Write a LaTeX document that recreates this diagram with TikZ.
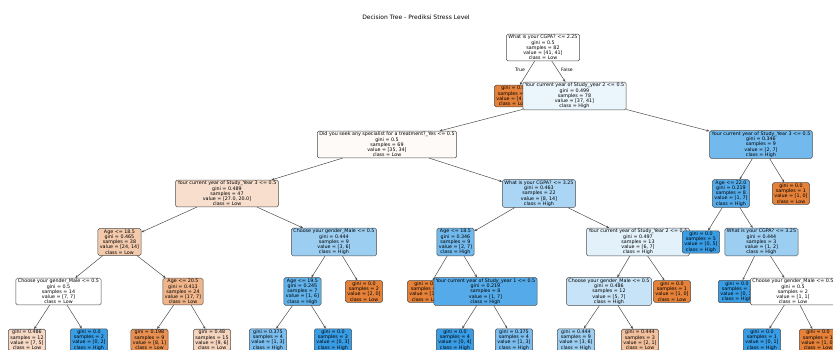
\documentclass[tikz,border=0pt]{standalone}
\usepackage{fontspec}
\setmainfont{DejaVu Sans}
\usetikzlibrary{arrows.meta}

\definecolor{lowcol}{RGB}{229,129,57}
\definecolor{highcol}{RGB}{57,157,229}

\begin{document}
\begin{tikzpicture}[x=1pt, y=-1pt,
    box/.style={draw=black!70, line width=0.5pt, rounded corners=1.5pt, align=center,
      inner xsep=2pt, inner ysep=1.1pt, font=\fontsize{4.8}{5.2}\selectfont},
    edge/.style={draw=black!70, line width=0.5pt, -{Stealth[length=3pt, width=2.4pt]}},
    lbl/.style={font=\fontsize{4.6}{5}\selectfont, inner sep=0.5pt}]
    \useasboundingbox (0,0) rectangle (833,349);
    \clip (0,0) rectangle (833,349);

    \node[font=\fontsize{6}{7}\selectfont] (title) at (416,17) {Decision Tree - Prediksi Stress Level};

    % level 0
    \node[box, fill=white] (root) at (543,47.5) {What is your CGPA? <= 2.25\\gini = 0.5\\samples = 82\\value = [41, 41]\\class = Low};
    \node[box, fill=lowcol] (leafA) at (513,96) {gini = 0.0\\samples = 4\\value = [4, 0]\\class = Low};
    \node[box, fill=highcol!10] (yrtwo) at (574.5,96) {Your current year of Study\_year 2 <= 0.5\\gini = 0.499\\samples = 78\\value = [37, 41]\\class = High};

    % left branch
    \node[box, fill=lowcol!4] (spec) at (387,144.5) {Did you seek any specialist for a treatment?\_Yes <= 0.5\\gini = 0.5\\samples = 69\\value = [35, 34]\\class = Low};
    \node[box, fill=lowcol!26] (yrthreeL) at (227,193.5) {Your current year of Study\_Year 3 <= 0.5\\gini = 0.489\\samples = 47\\value = [27.0, 20.0]\\class = Low};
    \node[box, fill=lowcol!42] (ageA) at (119.5,242) {Age <= 18.5\\gini = 0.465\\samples = 38\\value = [24, 14]\\class = Low};
    \node[box, fill=white] (genL) at (58.5,291.5) {Choose your gender\_Male <= 0.5\\gini = 0.5\\samples = 14\\value = [7, 7]\\class = Low};
    \node[box, fill=lowcol!29] (leafB) at (27,340) {gini = 0.486\\samples = 12\\value = [7, 5]\\class = Low};
    \node[box, fill=highcol] (leafC) at (89,340) {gini = 0.0\\samples = 2\\value = [0, 2]\\class = High};
    \node[box, fill=lowcol!59] (ageB) at (183,291.5) {Age <= 20.5\\gini = 0.413\\samples = 24\\value = [17, 7]\\class = Low};
    \node[box, fill=lowcol!88] (leafD) at (149.5,340) {gini = 0.198\\samples = 9\\value = [8, 1]\\class = Low};
    \node[box, fill=lowcol!33] (leafE) at (212,340) {gini = 0.48\\samples = 15\\value = [9, 6]\\class = Low};
    \node[box, fill=highcol!50] (genM) at (334,242) {Choose your gender\_Male <= 0.5\\gini = 0.444\\samples = 9\\value = [3, 6]\\class = High};
    \node[box, fill=highcol!80] (ageC) at (302.5,291.5) {Age <= 19.5\\gini = 0.245\\samples = 7\\value = [1, 6]\\class = High};
    \node[box, fill=highcol!67] (leafF) at (268,340) {gini = 0.375\\samples = 4\\value = [1, 3]\\class = High};
    \node[box, fill=highcol] (leafG) at (333,340) {gini = 0.0\\samples = 3\\value = [0, 3]\\class = High};
    \node[box, fill=lowcol] (leafH) at (364,291.5) {gini = 0.0\\samples = 2\\value = [2, 0]\\class = Low};
    \node[box, fill=highcol!43] (cgpaM) at (539,193.5) {What is your CGPA? <= 3.25\\gini = 0.463\\samples = 22\\value = [8, 14]\\class = High};
    \node[box, fill=highcol!71] (ageD) at (455.5,242) {Age <= 18.5\\gini = 0.346\\samples = 9\\value = [2, 7]\\class = High};
    \node[box, fill=lowcol] (leafI) at (426,291.5) {gini = 0.0\\samples = 1\\value = [1, 0]\\class = Low};
    \node[box, fill=highcol!86] (yrone) at (485.5,291.5) {Your current year of Study\_year 1 <= 0.5\\gini = 0.219\\samples = 8\\value = [1, 7]\\class = High};
    \node[box, fill=highcol] (leafJ) at (455,340) {gini = 0.0\\samples = 4\\value = [0, 4]\\class = High};
    \node[box, fill=highcol!67] (leafK) at (514,340) {gini = 0.375\\samples = 4\\value = [1, 3]\\class = High};
    \node[box, fill=highcol!14] (yrtwoM) at (638,242) {Your current year of Study\_Year 2 <= 0.5\\gini = 0.497\\samples = 13\\value = [6, 7]\\class = High};
    \node[box, fill=highcol!29] (genR) at (609,291.5) {Choose your gender\_Male <= 0.5\\gini = 0.486\\samples = 12\\value = [5, 7]\\class = High};
    \node[box, fill=highcol!50] (leafL) at (576,340) {gini = 0.444\\samples = 9\\value = [3, 6]\\class = High};
    \node[box, fill=lowcol!50] (leafM) at (640,340) {gini = 0.444\\samples = 3\\value = [2, 1]\\class = Low};
    \node[box, fill=lowcol] (leafN) at (672,291.5) {gini = 0.0\\samples = 1\\value = [1, 0]\\class = Low};

    % right branch
    \node[box, fill=highcol!71] (yrthreeR) at (761,144.5) {Your current year of Study\_Year 3 <= 0.5\\gini = 0.346\\samples = 9\\value = [2, 7]\\class = High};
    \node[box, fill=highcol!86] (ageE) at (731,193.5) {Age <= 22.0\\gini = 0.219\\samples = 8\\value = [1, 7]\\class = High};
    \node[box, fill=highcol] (leafO) at (701,242) {gini = 0.0\\samples = 5\\value = [0, 5]\\class = High};
    \node[box, fill=highcol!50] (cgpaR) at (761.5,242) {What is your CGPA? <= 3.25\\gini = 0.444\\samples = 3\\value = [1, 2]\\class = High};
    \node[box, fill=highcol] (leafP) at (737,291.5) {gini = 0.0\\samples = 1\\value = [0, 1]\\class = High};
    \node[box, fill=white] (genRR) at (793,291.5) {Choose your gender\_Male <= 0.5\\gini = 0.5\\samples = 2\\value = [1, 1]\\class = Low};
    \node[box, fill=highcol] (leafQ) at (762,340) {gini = 0.0\\samples = 1\\value = [0, 1]\\class = High};
    \node[box, fill=lowcol] (leafR) at (818,340) {gini = 0.0\\samples = 1\\value = [1, 0]\\class = Low};
    \node[box, fill=lowcol] (leafS) at (791,193.5) {gini = 0.0\\samples = 1\\value = [1, 0]\\class = Low};

    % connectors
    \draw[edge] (root) -- (leafA);
    \draw[edge] (root) -- (yrtwo);
    \draw[edge] (yrtwo) -- (spec);
    \draw[edge] (yrtwo) -- (yrthreeR);
    \draw[edge] (spec) -- (yrthreeL);
    \draw[edge] (spec) -- (cgpaM);
    \draw[edge] (yrthreeL) -- (ageA);
    \draw[edge] (yrthreeL) -- (genM);
    \draw[edge] (ageA) -- (genL);
    \draw[edge] (ageA) -- (ageB);
    \draw[edge] (genL) -- (leafB);
    \draw[edge] (genL) -- (leafC);
    \draw[edge] (ageB) -- (leafD);
    \draw[edge] (ageB) -- (leafE);
    \draw[edge] (genM) -- (ageC);
    \draw[edge] (genM) -- (leafH);
    \draw[edge] (ageC) -- (leafF);
    \draw[edge] (ageC) -- (leafG);
    \draw[edge] (cgpaM) -- (ageD);
    \draw[edge] (cgpaM) -- (yrtwoM);
    \draw[edge] (ageD) -- (leafI);
    \draw[edge] (ageD) -- (yrone);
    \draw[edge] (yrone) -- (leafJ);
    \draw[edge] (yrone) -- (leafK);
    \draw[edge] (yrtwoM) -- (genR);
    \draw[edge] (yrtwoM) -- (leafN);
    \draw[edge] (genR) -- (leafL);
    \draw[edge] (genR) -- (leafM);
    \draw[edge] (yrthreeR) -- (ageE);
    \draw[edge] (yrthreeR) -- (leafS);
    \draw[edge] (ageE) -- (leafO);
    \draw[edge] (ageE) -- (cgpaR);
    \draw[edge] (cgpaR) -- (leafP);
    \draw[edge] (cgpaR) -- (genRR);
    \draw[edge] (genRR) -- (leafQ);
    \draw[edge] (genRR) -- (leafR);

    \node[lbl] (truelbl) at (520,70) {True};
    \node[lbl] (falselbl) at (567,70) {False};
\end{tikzpicture}
\end{document}
